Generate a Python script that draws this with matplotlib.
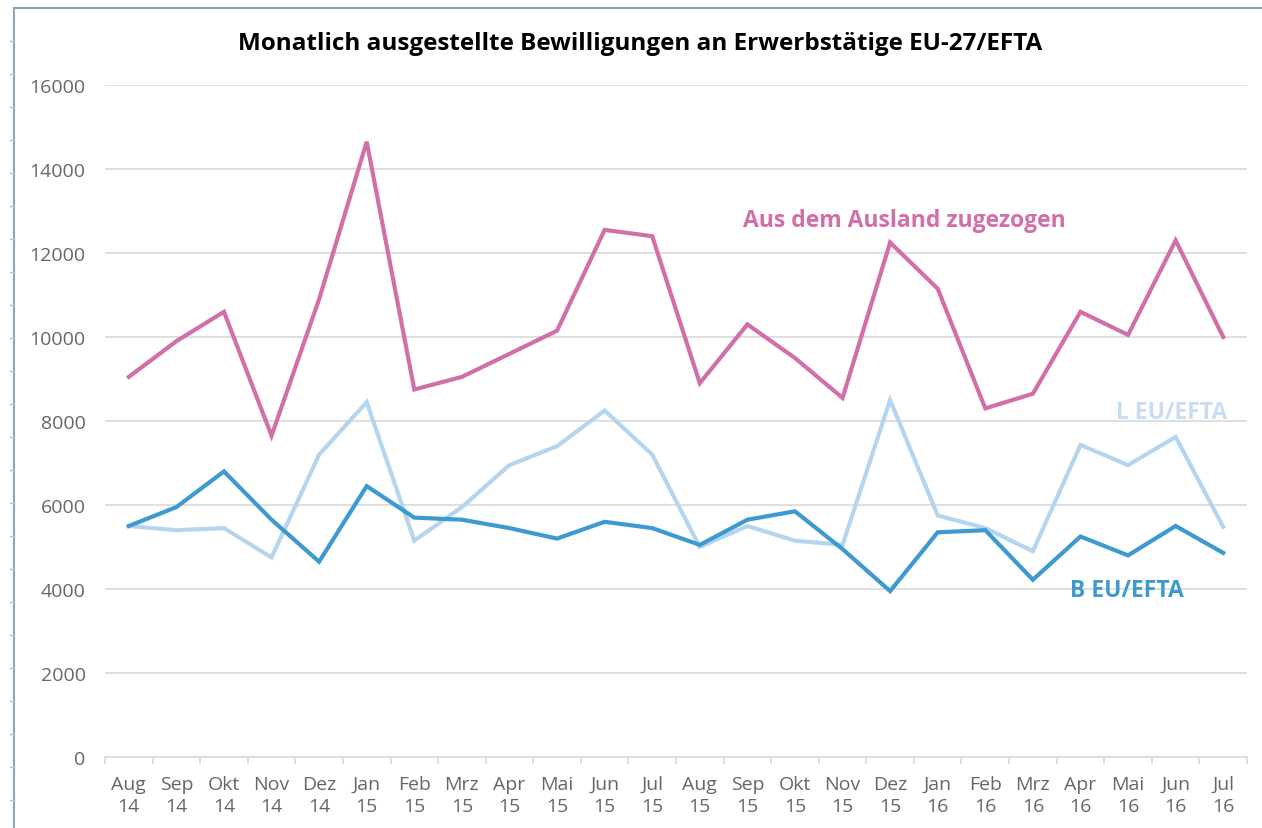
import numpy as np
import matplotlib.pyplot as plt
from matplotlib.lines import Line2D

plt.rcParams['font.family'] = ['Open Sans', 'DejaVu Sans']

monate = ['Aug\n14', 'Sep\n14', 'Okt\n14', 'Nov\n14', 'Dez\n14', 'Jan\n15',
          'Feb\n15', 'Mrz\n15', 'Apr\n15', 'Mai\n15', 'Jun\n15', 'Jul\n15',
          'Aug\n15', 'Sep\n15', 'Okt\n15', 'Nov\n15', 'Dez\n15', 'Jan\n16',
          'Feb\n16', 'Mrz\n16', 'Apr\n16', 'Mai\n16', 'Jun\n16', 'Jul\n16']

ausland = [9050, 9900, 10600, 7650, 10900, 14650, 8750, 9050, 9600, 10150, 12550, 12400,
           8900, 10300, 9500, 8550, 12250, 11150, 8300, 8650, 10600, 10050, 12300, 10000]
b_eu = [5500, 5950, 6800, 5650, 4650, 6450, 5700, 5650, 5450, 5200, 5600, 5450,
        5050, 5650, 5850, 4950, 3950, 5350, 5400, 4220, 5250, 4800, 5500, 4860]
l_eu = [5500, 5400, 5450, 4750, 7200, 8450, 5150, 5950, 6950, 7400, 8250, 7200,
        5000, 5500, 5150, 5050, 8500, 5750, 5450, 4900, 7430, 6950, 7620, 5480]

c_ausland = '#D26FA9'
c_b = '#3D9AD1'
c_l = '#B5D5EF'

fig = plt.figure(figsize=(12.62, 8.29), dpi=100)
ax = fig.add_axes([105 / 1262, 71 / 829, 1142 / 1262, 672 / 829])

x = np.arange(len(monate))
ax.plot(x, l_eu, color=c_l, lw=3, solid_joinstyle='miter')
ax.plot(x, b_eu, color=c_b, lw=3, solid_joinstyle='miter')
ax.plot(x, ausland, color=c_ausland, lw=3, solid_joinstyle='miter')

ax.set_xlim(-0.5, len(monate) - 0.5)
ax.set_ylim(0, 16000)
ax.set_yticks(np.arange(0, 16001, 2000))
ax.yaxis.grid(True, color='#D9D9D9', lw=1.2)
ax.set_axisbelow(True)
for s in ['top', 'right', 'left']:
    ax.spines[s].set_visible(False)
ax.spines['bottom'].set_color('#D9D9D9')
ax.spines['bottom'].set_linewidth(1.2)

ax.set_xticks(x)
ax.set_xticklabels(monate, fontsize=14, color='#666666', linespacing=1.3)
ax.tick_params(axis='x', length=0, pad=13)
ax.set_xticks(np.arange(-0.5, len(monate)), minor=True)
ax.tick_params(axis='x', which='minor', length=5, color='#D9D9D9', width=1.2)
ax.tick_params(axis='y', length=0, pad=14, labelsize=14, labelcolor='#666666')

fig.text(640 / 1262, 1 - 44 / 829, 'Monatlich ausgestellte Bewilligungen an Erwerbstätige EU-27/EFTA',
         ha='center', va='center', fontsize=17.5, fontweight='bold', color='black')

fig.text(904 / 1262, 1 - 221 / 829, 'Aus dem Ausland zugezogen', ha='center', va='center',
         fontsize=16.5, fontweight='bold', color=c_ausland)
fig.text(1172 / 1262, 1 - 413 / 829, 'L EU/EFTA', ha='center', va='center',
         fontsize=16.5, fontweight='bold', color='#C6DDF2')
fig.text(1127 / 1262, 1 - 591 / 829, 'B EU/EFTA', ha='center', va='center',
         fontsize=16.5, fontweight='bold', color=c_b)

# Rahmen links und oben
frame = '#8FA4B8'
fig.add_artist(Line2D([14 / 1262, 14 / 1262], [0, 1 - 9 / 829], color=frame, lw=1.5))
fig.add_artist(Line2D([14 / 1262, 1], [1 - 9 / 829, 1 - 9 / 829], color=frame, lw=1.5))
for yy in np.arange(42, 829, 33):
    fig.add_artist(Line2D([10 / 1262, 14 / 1262], [1 - yy / 829, 1 - yy / 829],
                          color='#A9C8E4', lw=1))

fig.savefig('out.png', dpi=100)
